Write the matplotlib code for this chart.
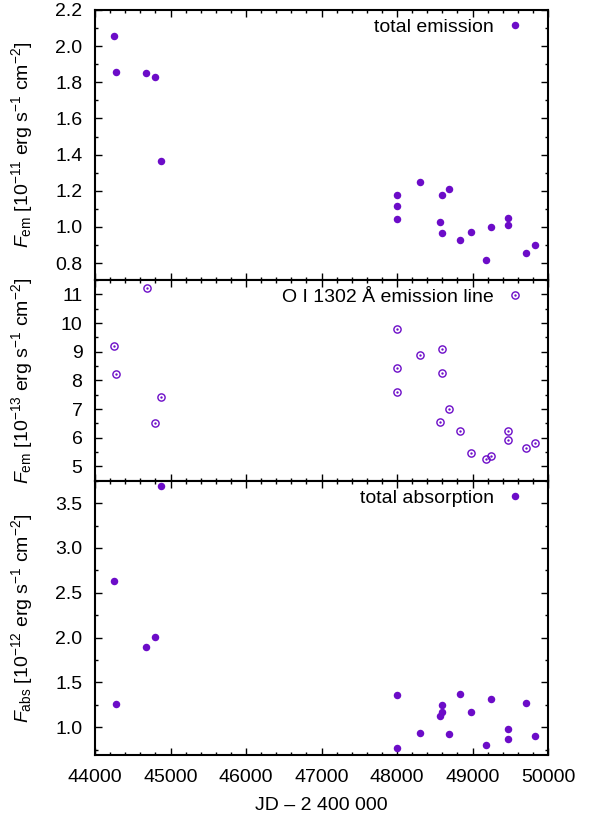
import numpy as np
import matplotlib
matplotlib.use("Agg")
import matplotlib.pyplot as plt
from matplotlib.ticker import MultipleLocator, FormatStrFormatter

# ------------------------------
# DATA
# ------------------------------

jd_em = [44252, 44283, 44680, 44799, 44879,
         47996, 47996, 47996, 48305, 48574, 48596, 48596, 48689,
         48830, 48976, 49183, 49249, 49474, 49474, 49704, 49828]
f_em_total = [2.054, 1.857, 1.851, 1.831, 1.362,
              1.175, 1.118, 1.046, 1.249, 1.025, 1.179, 0.965, 1.207,
              0.927, 0.974, 0.817, 1.002, 1.048, 1.009, 0.858, 0.902]

jd_oi = [44685, 44252, 44283, 44879, 44799,
         48000, 48000, 48000, 48305, 48596, 48596, 48574, 48689,
         48830, 48980, 49183, 49249, 49474, 49474, 49704, 49828]
f_em_oi = [11.23, 9.21, 8.22, 7.41, 6.50,
           9.78, 8.42, 7.60, 8.90, 9.11, 8.24, 6.53, 7.01,
           6.25, 5.45, 5.24, 5.36, 6.23, 5.92, 5.64, 5.83]

jd_abs = [44879, 44252, 44283, 44680, 44799,
          48000, 48000, 48305, 48596, 48596, 48574, 48689,
          48830, 48980, 49183, 49249, 49474, 49474, 49704, 49828]
f_abs = [3.69, 2.636, 1.26, 1.90, 2.004,
         1.36, 0.772, 0.933, 1.245, 1.17, 1.126, 0.929,
         1.375, 1.174, 0.802, 1.316, 0.978, 0.869, 1.268, 0.903]

COLOR = "#6c0cc8"

plt.rcParams["font.family"] = ["Liberation Sans", "DejaVu Sans"]
plt.rcParams["font.size"] = 14
plt.rcParams["mathtext.fontset"] = "custom"
plt.rcParams["mathtext.rm"] = "Liberation Sans"
plt.rcParams["mathtext.it"] = "Liberation Sans:italic"
plt.rcParams["mathtext.default"] = "regular"

fig = plt.figure(figsize=(5.95, 8.16), dpi=100)

left, width = 95 / 595, (548 - 95) / 595
def frac(top_px, bot_px):
    return [left, 1 - bot_px / 816, width, (bot_px - top_px) / 816]

ax1 = fig.add_axes(frac(10, 280))
ax2 = fig.add_axes(frac(280, 480.7))
ax3 = fig.add_axes(frac(480.7, 755))

def style(ax, ymajor, yminor):
    ax.set_xlim(44000, 50000)
    ax.xaxis.set_major_locator(MultipleLocator(1000))
    ax.xaxis.set_minor_locator(MultipleLocator(200))
    ax.yaxis.set_major_locator(MultipleLocator(ymajor))
    ax.yaxis.set_minor_locator(MultipleLocator(yminor))
    ax.tick_params(which="both", direction="in", top=True, right=True, width=1.0)
    ax.tick_params(which="major", length=5)
    ax.tick_params(which="minor", length=2.5)
    ax.tick_params(axis="y", labelsize=14, pad=9)
    ax.tick_params(axis="x", labelsize=14, pad=10)
    for s in ax.spines.values():
        s.set_linewidth(1.5)

# --- top panel: total emission
ax1.plot(jd_em, f_em_total, "o", color=COLOR, ms=5.4, mec="none", label="total emission")
ax1.set_ylim(0.706, 2.2)
style(ax1, 0.2, 0.1)
ax1.yaxis.set_major_formatter(FormatStrFormatter("%.1f"))
ax1.tick_params(labelbottom=False)
ax1.set_ylabel(r"$\it{F}_{\rm em}$ [10$^{-11}$ erg s$^{-1}$ cm$^{-2}$]")

# --- middle panel: O I 1302 line
ring, = ax2.plot(jd_oi, f_em_oi, "o", mfc="none", mec=COLOR, mew=1.0, ms=5.2)
dot, = ax2.plot(jd_oi, f_em_oi, ".", color=COLOR, ms=1.4)
ax2.set_ylim(4.5, 11.5)
style(ax2, 1, 0.5)
ax2.tick_params(labelbottom=False)
ax2.set_ylabel(r"$\it{F}_{\rm em}$ [10$^{-13}$ erg s$^{-1}$ cm$^{-2}$]")

# --- bottom panel: total absorption
ax3.plot(jd_abs, f_abs, "o", color=COLOR, ms=5.4, mec="none", label="total absorption")
ax3.set_ylim(0.69, 3.75)
style(ax3, 0.5, 0.25)
ax3.yaxis.set_major_formatter(FormatStrFormatter("%.1f"))
ax3.set_ylabel(r"$\it{F}_{\rm abs}$ [10$^{-12}$ erg s$^{-1}$ cm$^{-2}$]")
ax3.set_xlabel("JD \u2013 2 400 000", labelpad=8)

leg_kw = dict(loc="upper right", bbox_to_anchor=(0.949, 0.970), frameon=False,
              markerfirst=False, handlelength=1.0, handletextpad=0.6,
              borderpad=0, borderaxespad=0, fontsize=14)
ax1.legend(**leg_kw)
ax2.legend([(ring, dot)], ["O I 1302 \u00c5 emission line"],
           **dict(leg_kw, bbox_to_anchor=(0.949, 0.96)))
ax3.legend(**leg_kw)

for ax in (ax1, ax2, ax3):
    ax.yaxis.set_label_coords(-0.132, 0.5)

fig.savefig("out.png", dpi=100)
